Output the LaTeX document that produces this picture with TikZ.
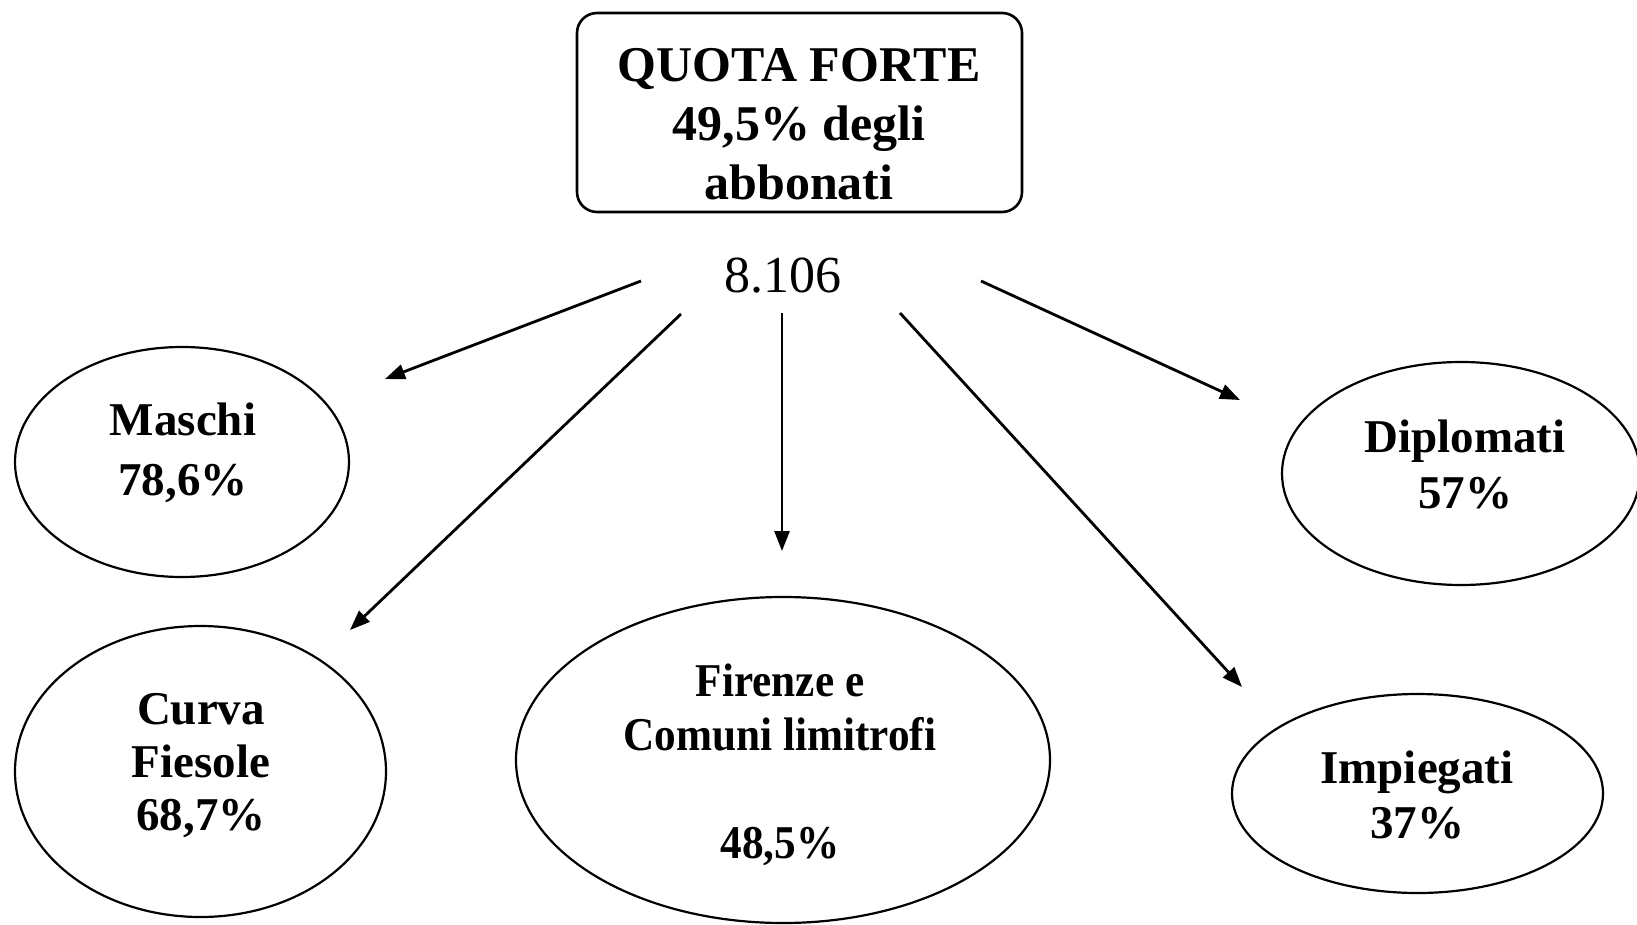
\documentclass[tikz,border=0pt]{standalone}
\usepackage{fontspec}
\setmainfont{Liberation Serif}
\newfontfamily\condfont[FakeStretch=0.92]{Liberation Serif}
\usetikzlibrary{shapes.geometric,arrows.meta}
\begin{document}
\begin{tikzpicture}[x=0.5pt,y=-0.5pt,
  oval/.style={draw,ellipse,line width=1.1pt,inner sep=0pt},
  lbl/.style={align=center,inner sep=0pt,font=\bfseries\fontsize{23.5}{27.5}\selectfont},
  arr/.style={line width=1.4pt,-{Triangle[length=10pt,width=7.5pt]}}]
\useasboundingbox (0,0) rectangle (1637,925);

% title box
\node[draw,rounded corners=10pt,line width=1.3pt,minimum width=222.5pt,minimum height=99.5pt,inner sep=0pt] (box) at (799.5,112.5) {};
\node[lbl,font=\bfseries\fontsize{25}{29.5}\selectfont] (title) at (799,124) {QUOTA FORTE\\49,5\% degli\\abbonati};

\node[inner sep=0pt,font=\fontsize{26}{30}\selectfont] (num) at (782.5,275.5) {8.106};

% ellipses
\node[oval,minimum width=167pt,minimum height=115pt] (maschi) at (182,462) {};
\node[oval,minimum width=185.5pt,minimum height=145.5pt] (curva) at (200.5,771.5) {};
\node[oval,minimum width=267pt,minimum height=163pt] (firenze) at (783,760) {};
\node[oval,minimum width=179pt,minimum height=111.5pt] (diplomati) at (1461,473.5) {};
\node[oval,minimum width=185.5pt,minimum height=99.5pt] (impiegati) at (1417.5,793.5) {};

% texts
\node[lbl,font=\bfseries\fontsize{23.5}{30}\selectfont] (maschiT) at (183,453) {Maschi\\78,6\%};
\node[lbl,font=\bfseries\fontsize{23.5}{26.5}\selectfont] (curvaT) at (201,766) {Curva\\Fiesole\\68,7\%};
\node[lbl,font=\condfont\bfseries\fontsize{23.5}{27}\selectfont] (firenzeT) at (780,765) {Firenze e\\Comuni limitrofi\\[27pt]48,5\%};
\node[lbl,font=\bfseries\fontsize{23.5}{28}\selectfont] (diplomatiT) at (1465,464.5) {Diplomati\\57\%};
\node[lbl,font=\bfseries\fontsize{23.5}{27.5}\selectfont] (impiegatiT) at (1417,795) {Impiegati\\37\%};

% arrow ends
\coordinate (s1) at (641,281);  \coordinate (e1) at (385,379);
\coordinate (s2) at (681,314);  \coordinate (e2) at (350,630);
\coordinate (s3) at (782,313);  \coordinate (e3) at (782,551);
\coordinate (s4) at (900,313);  \coordinate (e4) at (1242,687);
\coordinate (s5) at (981,281);  \coordinate (e5) at (1240,400);

\draw[arr] (s1) -- (e1);
\draw[arr] (s2) -- (e2);
\draw[arr] (s3) -- (e3);
\draw[arr] (s4) -- (e4);
\draw[arr] (s5) -- (e5);
\end{tikzpicture}
\end{document}
